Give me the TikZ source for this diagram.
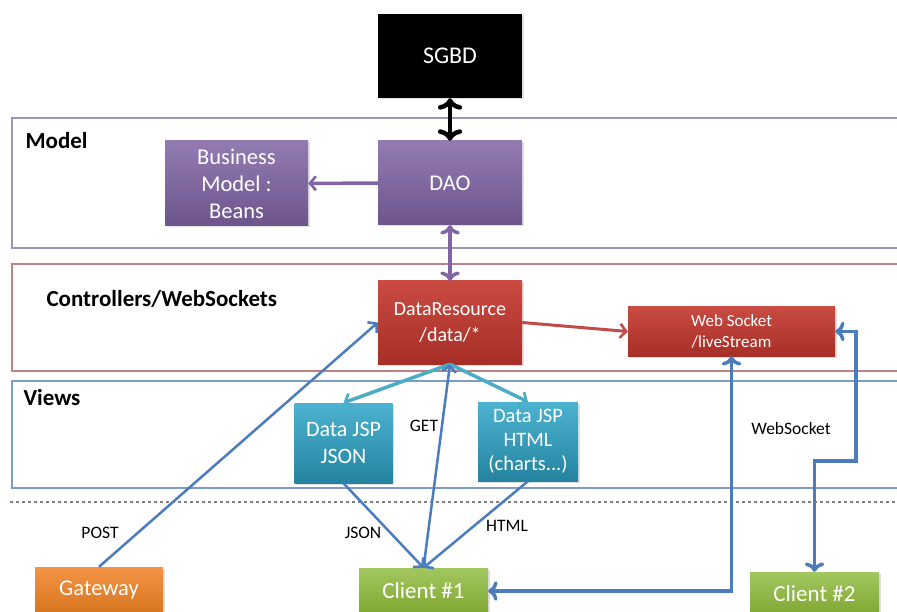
\documentclass[tikz,border=0pt]{standalone}
\usepackage{fontspec}
\setmainfont{Carlito}
\usepackage{tikz}
\usetikzlibrary{arrows.meta, shadows}

\definecolor{purplebox}{RGB}{128,100,165}
\definecolor{redbox}{RGB}{195,55,45}
\definecolor{tealbox}{RGB}{45,165,200}
\definecolor{orangebox}{RGB}{240,130,35}
\definecolor{greenbox}{RGB}{140,185,55}
\definecolor{bluearrow}{RGB}{75,125,190}
\definecolor{tealarrow}{RGB}{75,172,198}
\definecolor{redarrow}{RGB}{192,75,72}
\definecolor{modelline}{RGB}{155,150,185}
\definecolor{ctrlline}{RGB}{190,130,130}
\definecolor{viewsline}{RGB}{125,155,195}

\tikzset{
  box/.style={rectangle, text=white, align=center, inner sep=2pt,
              font=\fontsize{22.5}{27}\selectfont,
              drop shadow={opacity=0.25, shadow xshift=1.5pt, shadow yshift=-1.5pt}},
  layertitle/.style={anchor=west, font=\fontsize{23}{26}\selectfont\bfseries},
  wirelabel/.style={font=\fontsize{17.5}{20}\selectfont},
  wire/.style={line width=3.5pt, -{Straight Barb[length=6pt,width=14pt,line width=2.6pt]}},
}

\begin{document}
\begin{tikzpicture}[x=1pt, y=-1pt]
\useasboundingbox (0,0) rectangle (897,612);

% layers
\draw [modelline, line width=1.3pt] (897,118) -- (12,118) -- (12,248) -- (897,248);
\draw [ctrlline, line width=1.3pt] (897,264) -- (12,264) -- (12,371) -- (897,371);
\draw [viewsline, line width=1.3pt] (897,381) -- (12,381) -- (12,488) -- (897,488);
\draw [gray, dashed, line width=1.2pt] (10,502) -- (897,502);

\node [layertitle] (modeltitle) at (22,141) {Model};
\node [layertitle] (ctrltitle) at (43,299) {Controllers/WebSockets};
\node [layertitle] (viewstitle) at (20,398) {Views};

% boxes
\node [box,
       fill=black,
       font=\fontsize{24}{28}\selectfont,
       minimum width=144pt,
       minimum height=84pt] (sgbd) at (450,56) {SGBD};
\node [box,
       top color=purplebox!85!white, bottom color=purplebox!85!black,
       minimum width=143pt,
       minimum height=85pt] (beans) at (236.5,183.5) {Business\\Model :\\Beans};
\node [box,
       top color=purplebox!85!white, bottom color=purplebox!85!black,
       minimum width=144pt,
       minimum height=84pt] (dao) at (450,183) {DAO};
\node [box,
       top color=redbox!90!white, bottom color=redbox!85!black,
       font=\fontsize{20}{26}\selectfont,
       minimum width=144pt,
       minimum height=83pt] (dataresource) at (450,322.5) {DataResource\\/data/*};
\node [box,
       top color=redbox!90!white, bottom color=redbox!85!black,
       font=\fontsize{17}{21}\selectfont,
       minimum width=207pt,
       minimum height=49pt] (websocket) at (731.5,331.5) {Web Socket\\/liveStream};
\node [box,
       top color=tealbox!85!white, bottom color=tealbox!80!black,
       font=\fontsize{22}{27}\selectfont,
       minimum width=98pt,
       minimum height=80pt] (jspjson) at (343.5,443) {Data JSP\\JSON};
\node [box,
       top color=tealbox!85!white, bottom color=tealbox!80!black,
       font=\fontsize{20.5}{24}\selectfont,
       minimum width=100pt,
       minimum height=79pt] (jsphtml) at (528,441.5) {Data JSP\\HTML\\(charts...)};
\node [box,
       top color=orangebox!85!white, bottom color=orangebox!90!black,
       minimum width=128pt,
       minimum height=46pt] (gateway) at (99,590) {Gateway};
\node [box,
       top color=greenbox!80!white, bottom color=greenbox!90!black,
       font=\fontsize{23}{27}\selectfont,
       minimum width=129pt,
       minimum height=46pt] (client1) at (423.5,591) {Client \#1};
\node [box,
       top color=greenbox!80!white, bottom color=greenbox!90!black,
       font=\fontsize{23}{27}\selectfont,
       minimum width=129pt,
       minimum height=44pt] (client2) at (814.5,594) {Client \#2};

% connectors
\draw [wire, <->, black, line width=4.5pt] (sgbd) -- (dao);
\draw [wire, purplebox] (dao) -- (beans);
\draw [wire, <->, purplebox] (dao) -- (dataresource);
\draw [wire, redarrow, line width=3pt] (dataresource.east) -- (websocket.west);
\draw [wire, tealarrow] (dataresource.south) -- (jspjson.north);
\draw [wire, tealarrow] (dataresource.south) -- (jsphtml.north);
\draw [wire, bluearrow, line width=2.5pt] (gateway.north) -- (dataresource.west);
\draw [wire, bluearrow, line width=2.5pt] (jspjson.south) -- (client1.north);
\draw [wire, bluearrow, line width=2.5pt] (jsphtml.south) -- (client1.north);
\draw [wire, bluearrow, line width=2.5pt] (client1.north) -- (dataresource.south);
\draw [wire, <->, bluearrow] (websocket.south) |- (client1.east);
\coordinate (wsbend) at (856,461);
\draw [wire, <->, bluearrow] (websocket.east) -| (wsbend) -| (client2.north);

% labels
\node [wirelabel] (postlabel) at (100,533) {POST};
\node [wirelabel] (jsonlabel) at (363,533) {JSON};
\node [wirelabel] (getlabel) at (424,426) {GET};
\node [wirelabel] (htmllabel) at (507,526) {HTML};
\node [wirelabel] (wslabel) at (791,428) {WebSocket};
\end{tikzpicture}
\end{document}
